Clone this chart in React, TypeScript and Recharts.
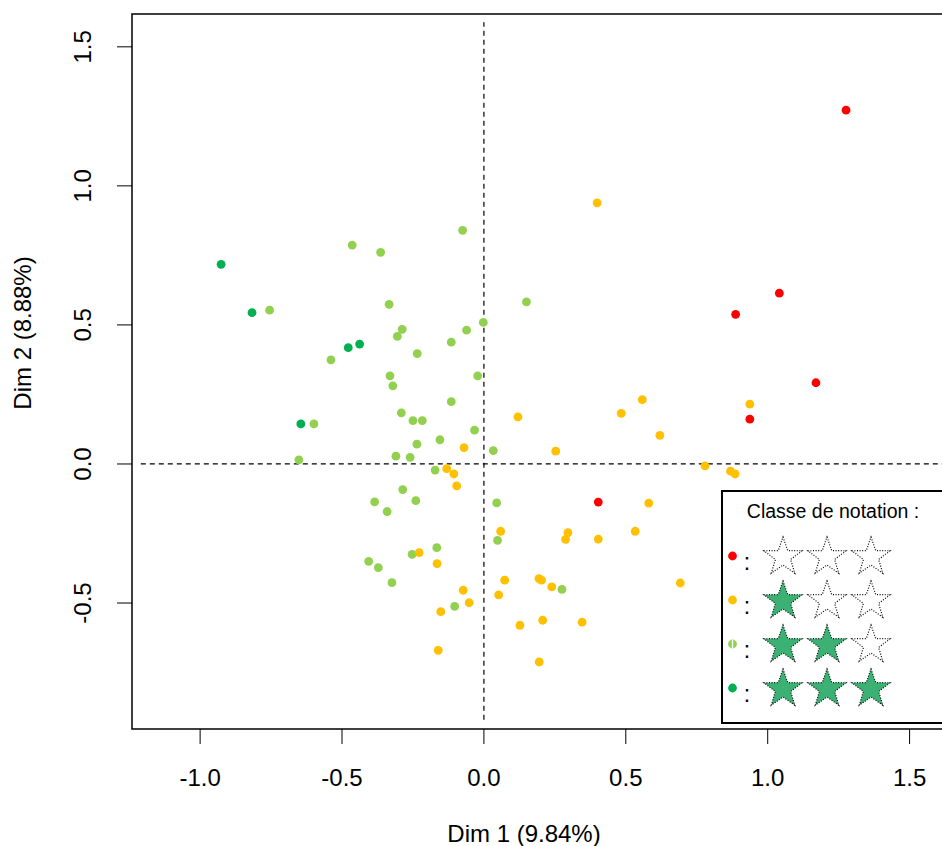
import React from 'react';
import { ScatterChart, Scatter, XAxis, YAxis, ReferenceLine, ReferenceArea, Legend, Label } from 'recharts';

const FONT = 'Liberation Sans, Arial, Helvetica, sans-serif';

// Series order shown in the legend (0 to 3 stars)
const seriesOrder = ['0 étoile', '1 étoile', '2 étoiles', '3 étoiles'];
const seriesColors = ['#FF0000', '#FFC000', '#92D050', '#00B050'];

const xTicks = [-1.0, -0.5, 0.0, 0.5, 1.0, 1.5];
const yTicks = [-0.5, 0.0, 0.5, 1.0, 1.5];

const xTitle = 'Dim 1 (9.84%)';
const yTitle = 'Dim 2 (8.88%)';
const legendTitle = 'Classe de notation :';

const classRouge: [number, number][] = [
  [1.276, 1.272], [1.041, 0.614], [0.887, 0.538], [1.170, 0.292], [0.937, 0.161], [0.403, -0.137],
];

const classOrange: [number, number][] = [
  [0.399, 0.939], [0.120, 0.169], [-0.070, 0.059], [-0.131, -0.017], [-0.106, -0.036], [-0.096, -0.079],
  [0.059, -0.242], [-0.228, -0.319], [-0.165, -0.358], [0.073, -0.418], [-0.073, -0.454], [0.052, -0.471],
  [-0.052, -0.499], [-0.152, -0.531], [0.127, -0.580], [-0.161, -0.670], [0.558, 0.231], [0.937, 0.215],
  [0.484, 0.182], [0.620, 0.103], [0.253, 0.046], [0.779, -0.007], [0.869, -0.026], [0.885, -0.036],
  [0.581, -0.141], [0.296, -0.247], [0.288, -0.271], [0.403, -0.270], [0.533, -0.242], [0.194, -0.412],
  [0.203, -0.418], [0.239, -0.442], [0.692, -0.428], [0.207, -0.562], [0.346, -0.569], [0.195, -0.712],
];

const classVertClair: [number, number][] = [
  [-0.755, 0.553], [-0.464, 0.787], [-0.364, 0.761], [-0.075, 0.840], [0.150, 0.583], [-0.334, 0.574],
  [-0.002, 0.509], [-0.288, 0.484], [-0.305, 0.459], [-0.061, 0.481], [-0.115, 0.438], [-0.235, 0.397],
  [-0.539, 0.374], [-0.331, 0.317], [-0.022, 0.317], [-0.321, 0.281], [-0.115, 0.224], [-0.291, 0.184],
  [-0.250, 0.156], [-0.217, 0.156], [-0.599, 0.144], [-0.033, 0.122], [-0.155, 0.087], [-0.236, 0.071],
  [0.033, 0.048], [-0.310, 0.028], [-0.260, 0.024], [-0.652, 0.015], [-0.172, -0.022], [-0.286, -0.092],
  [-0.240, -0.132], [-0.385, -0.136], [-0.341, -0.171], [0.045, -0.140], [0.048, -0.275], [-0.166, -0.301],
  [-0.253, -0.325], [-0.406, -0.350], [-0.372, -0.373], [-0.324, -0.427], [-0.103, -0.512], [0.275, -0.451],
];

const classVertFonce: [number, number][] = [
  [-0.926, 0.718], [-0.817, 0.544], [-0.438, 0.431], [-0.478, 0.418], [-0.645, 0.144],
];

const toObjs = (arr: [number, number][]) => arr.map(([x, y]) => ({ x, y }));

const X_DOMAIN: [number, number] = [-1.24, 1.6987];
const Y_DOMAIN: [number, number] = [-0.953, 1.618];

const Dot = (color: string) => (props: any) => {
  const { cx, cy } = props;
  if (cx == null || cy == null) return <g />;
  return <circle cx={cx} cy={cy} r={4.4} fill={color} stroke="none" />;
};

const XTick = (props: any) => {
  const { x, payload } = props;
  return (
    <text x={x} y={777} textAnchor="middle" dominantBaseline="central" fontSize={24} fontFamily={FONT} fill="#000">
      {Number(payload.value).toFixed(1)}
    </text>
  );
};

const YTick = (props: any) => {
  const { y, payload } = props;
  return (
    <text x={83} y={y} transform={`rotate(-90, 83, ${y})`} textAnchor="middle" dominantBaseline="central" fontSize={24} fontFamily={FONT} fill="#000">
      {Number(payload.value).toFixed(1)}
    </text>
  );
};

const starPoints = (cx: number, cy: number, R: number, r: number) => {
  const pts: string[] = [];
  for (let i = 0; i < 10; i++) {
    const a = (-90 + i * 36) * Math.PI / 180;
    const rad = i % 2 === 0 ? R : r;
    pts.push(`${(cx + rad * Math.cos(a)).toFixed(2)},${(cy + rad * Math.sin(a)).toFixed(2)}`);
  }
  return pts.join(' ');
};

const LegendBox = (props: any) => {
  const payload = [...(props.payload || [])].sort(
    (a: any, b: any) => seriesOrder.indexOf(a.value) - seriesOrder.indexOf(b.value)
  );
  return (
    <svg width={240} height={234} style={{ display: 'block', overflow: 'visible' }}>
      <rect x={1} y={1} width={270} height={232} fill="#fff" stroke="#000" strokeWidth={2} />
      <text x={112} y={21} textAnchor="middle" dominantBaseline="central" fontSize={19.5} fontFamily={FONT} fill="#000">
        {legendTitle}
      </text>
      {payload.map((p: any, i: number) => {
        const cy = 66 + i * 44;
        const filled = seriesOrder.indexOf(p.value);
        return (
          <g key={p.value}>
            <circle cx={11.5} cy={cy} r={4.4} fill={p.color} />
            {filled === 2 && <line x1={11.5} y1={cy - 4.4} x2={11.5} y2={cy + 4.4} stroke="#fff" strokeWidth={1.3} />}
            <text x={26} y={cy + 6} textAnchor="middle" dominantBaseline="central" fontSize={23} fontFamily={FONT} fill="#000">:</text>
            {[0, 1, 2].map((k) => (
              <polygon
                key={k}
                points={starPoints(62 + k * 44, cy + 1, 20, 8)}
                fill={k < filled ? '#3BB273' : 'none'}
                stroke="#000"
                strokeWidth={1.2}
                strokeDasharray="1 1.6"
              />
            ))}
          </g>
        );
      })}
    </svg>
  );
};

export default function App() {
  return (
    <div style={{ position: 'absolute', left: 0, top: 0, width: 942, height: 846, overflow: 'hidden', background: '#fff' }}>
      <ScatterChart width={976} height={846} margin={{ top: 14, right: 10, bottom: 0, left: 0 }}>
        <XAxis
          type="number"
          dataKey="x"
          domain={X_DOMAIN}
          ticks={xTicks}
          interval={0}
          allowDataOverflow
          height={117}
          axisLine={false}
          tickLine={{ stroke: '#000', strokeWidth: 1 }}
          tickSize={15}
          tick={<XTick />}
        >
          <Label
            content={() => (
              <text x={524} y={833} textAnchor="middle" dominantBaseline="central" fontSize={24} fontFamily={FONT} fill="#000">
                {xTitle}
              </text>
            )}
          />
        </XAxis>
        <YAxis
          type="number"
          dataKey="y"
          domain={Y_DOMAIN}
          ticks={yTicks}
          interval={0}
          allowDataOverflow
          width={132}
          axisLine={false}
          tickLine={{ stroke: '#000', strokeWidth: 1 }}
          tickSize={15}
          tick={<YTick />}
        >
          <Label
            content={() => (
              <text x={22} y={333} transform="rotate(-90, 22, 333)" textAnchor="middle" dominantBaseline="central" fontSize={24} fontFamily={FONT} fill="#000">
                {yTitle}
              </text>
            )}
          />
        </YAxis>
        <ReferenceArea x1={X_DOMAIN[0]} x2={X_DOMAIN[1]} y1={Y_DOMAIN[0]} y2={Y_DOMAIN[1]} fill="none" stroke="#000" strokeWidth={1.5} ifOverflow="visible" />
        <ReferenceLine segment={[{ x: 0, y: -0.92 }, { x: 0, y: 1.588 }]} stroke="#000" strokeWidth={1.2} strokeDasharray="5 4" ifOverflow="visible" />
        <ReferenceLine segment={[{ x: -1.209, y: 0 }, { x: 1.69, y: 0 }]} stroke="#000" strokeWidth={1.2} strokeDasharray="5 4" ifOverflow="visible" />
        <Scatter name={seriesOrder[2]} data={toObjs(classVertClair)} fill={seriesColors[2]} shape={Dot(seriesColors[2])} isAnimationActive={false} />
        <Scatter name={seriesOrder[1]} data={toObjs(classOrange)} fill={seriesColors[1]} shape={Dot(seriesColors[1])} isAnimationActive={false} />
        <Scatter name={seriesOrder[0]} data={toObjs(classRouge)} fill={seriesColors[0]} shape={Dot(seriesColors[0])} isAnimationActive={false} />
        <Scatter name={seriesOrder[3]} data={toObjs(classVertFonce)} fill={seriesColors[3]} shape={Dot(seriesColors[3])} isAnimationActive={false} />
        <Legend
          layout="horizontal"
          verticalAlign="middle"
          align="center"
          content={LegendBox}
          wrapperStyle={{ left: 721, top: 490, width: 240, height: 234, margin: 0, padding: 0 }}
        />
      </ScatterChart>
    </div>
  );
}
